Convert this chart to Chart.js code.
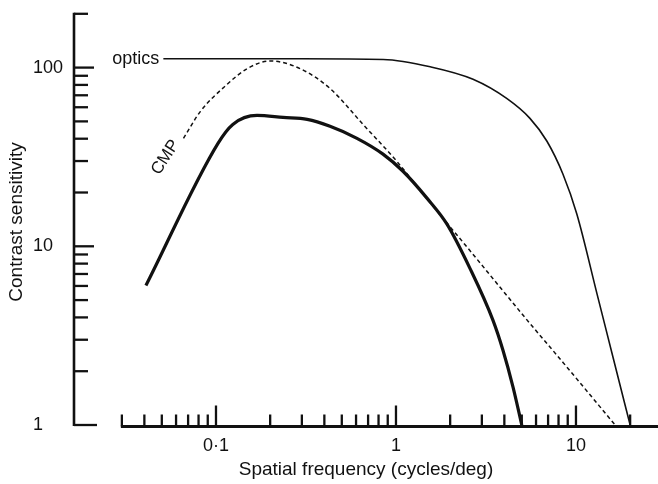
<!DOCTYPE html>
<html>
<head>
<meta charset="utf-8">
<script src="https://cdn.jsdelivr.net/npm/chart.js@4.4.1/dist/chart.umd.min.js"></script>
<style>
  html, body { margin: 0; padding: 0; background: #fff; }
</style>
</head>
<body>
<canvas id="chart" width="658" height="484"></canvas>
<script>
/** DATA */
// spatial frequency in cycles/deg, contrast sensitivity
const opticsFreq = [0.051, 0.3, 0.85, 1.55, 2.68, 4.14, 5.55, 6.9, 8.47, 10.1, 13.1, 16.1, 20];
const opticsSens = [112, 112, 111, 101, 86, 67, 52, 38.7, 25.3, 15.2, 5.4, 2.37, 1];

const cmpFreq = [0.066, 0.082, 0.115, 0.149, 0.2, 0.293, 0.43, 0.656, 1.01, 1.55, 2.58, 5.55, 8.47, 16.5];
const cmpSens = [40.2, 56.9, 80.4, 98.7, 109, 98.7, 76.4, 48.1, 29.9, 17.5, 9.44, 3.7, 2.24, 1];

const observedFreq = [0.0408, 0.1026, 0.124, 0.169, 0.236, 0.321, 0.43, 0.607, 0.847, 1.094, 1.486, 1.92, 2.58, 3.46, 3.93, 4.47, 5.0];
const observedSens = [6.03, 37.7, 48.1, 54, 52.6, 51.3, 46.9, 40.2, 32.8, 26.3, 18.6, 13.3, 7.5, 3.85, 2.62, 1.63, 1];

const xTickValues = [0.1, 1, 10];
const xTickLabels = ['0·1', '1', '10'];
const xMinorTicks = [0.03, 0.04, 0.05, 0.06, 0.07, 0.08, 0.09, 0.2, 0.3, 0.4, 0.5, 0.6, 0.7, 0.8, 0.9, 2, 3, 4, 5, 6, 7, 8, 9, 20];
const yTickValues = [1, 10, 100];
const yMinorTicks = [2, 3, 4, 5, 6, 7, 8, 9, 20, 30, 40, 50, 60, 70, 80, 90, 200];

const INK = '#111';
const FONT = '"Liberation Sans", Arial, Helvetica, sans-serif';

function toPoints(xs, ys) {
    return xs.map(function (x, i) { return { x: x, y: ys[i] }; });
}

/** hand drawn looking axes, placed through the chart scales */
const axesPlugin = {
    id: 'handAxes',
    afterDraw(chart) {
        const ctx = chart.ctx;
        const xs = chart.scales.x;
        const ys = chart.scales.y;
        const area = chart.chartArea;
        ctx.save();
        ctx.strokeStyle = INK;
        ctx.fillStyle = INK;
        ctx.lineCap = 'butt';

        // y axis
        ctx.lineWidth = 2.6;
        ctx.beginPath();
        ctx.moveTo(area.left, ys.getPixelForValue(200) - 1);
        ctx.lineTo(area.left, ys.getPixelForValue(1) + 1);
        ctx.stroke();

        ctx.lineWidth = 2.3;
        yMinorTicks.forEach(function (v) {
            const py = ys.getPixelForValue(v);
            ctx.beginPath();
            ctx.moveTo(area.left, py);
            ctx.lineTo(area.left + 14, py);
            ctx.stroke();
        });
        yTickValues.forEach(function (v) {
            const py = ys.getPixelForValue(v);
            ctx.beginPath();
            ctx.moveTo(area.left, py);
            ctx.lineTo(area.left + (v === 1 ? 23 : 20), py);
            ctx.stroke();
        });

        // x axis, starts at 0.03
        const axisY = area.bottom + 1.5;
        ctx.lineWidth = 2.8;
        ctx.beginPath();
        ctx.moveTo(xs.getPixelForValue(0.03) - 1, axisY);
        ctx.lineTo(area.right, axisY);
        ctx.stroke();

        ctx.lineWidth = 2.3;
        xMinorTicks.forEach(function (v) {
            const px = xs.getPixelForValue(v);
            ctx.beginPath();
            ctx.moveTo(px, axisY);
            ctx.lineTo(px, axisY - 12);
            ctx.stroke();
        });
        xTickValues.forEach(function (v) {
            const px = xs.getPixelForValue(v);
            ctx.beginPath();
            ctx.moveTo(px, axisY);
            ctx.lineTo(px, axisY - 21);
            ctx.stroke();
        });

        // y axis title
        ctx.font = '19px ' + FONT;
        ctx.textAlign = 'center';
        ctx.textBaseline = 'middle';
        ctx.save();
        ctx.translate(17, 222);
        ctx.rotate(-Math.PI / 2);
        ctx.fillText('Contrast sensitivity', 0, 0);
        ctx.restore();

        // curve labels
        ctx.font = '18px ' + FONT;
        ctx.textAlign = 'right';
        ctx.fillText('optics', xs.getPixelForValue(opticsFreq[0]) - 4, ys.getPixelForValue(opticsSens[0]));

        ctx.save();
        ctx.font = '17px ' + FONT;
        ctx.textAlign = 'center';
        ctx.translate(xs.getPixelForValue(cmpFreq[0]) - 18, ys.getPixelForValue(cmpSens[0]) + 19);
        ctx.rotate(-57 * Math.PI / 180);
        ctx.fillText('CMP', 0, 0);
        ctx.restore();

        ctx.restore();
    }
};

const config = {
    type: 'scatter',
    data: {
        datasets: [{
            label: 'optics',
            data: toPoints(opticsFreq, opticsSens),
            showLine: true,
            borderColor: INK,
            borderWidth: 1.6,
            pointRadius: 0,
            cubicInterpolationMode: 'monotone',
            clip: 6
        }, {
            label: 'CMP',
            data: toPoints(cmpFreq, cmpSens),
            showLine: true,
            borderColor: INK,
            borderWidth: 1.5,
            borderDash: [4, 3],
            pointRadius: 0,
            cubicInterpolationMode: 'monotone',
            clip: 6
        }, {
            label: 'observed',
            data: toPoints(observedFreq, observedSens),
            showLine: true,
            borderColor: INK,
            borderWidth: 3.2,
            pointRadius: 0,
            cubicInterpolationMode: 'monotone',
            clip: 6
        }]
    },
    options: {
        responsive: false,
        animation: false,
        layout: { padding: { left: 33, top: 12, right: 0, bottom: 0 } },
        plugins: { legend: { display: false }, tooltip: { enabled: false } },
        scales: {
            x: {
                type: 'logarithmic',
                bounds: 'data',
                min: 0.01626,
                max: 28.56,
                grid: { display: false, drawTicks: false },
                border: { display: false },
                afterBuildTicks: function (scale) {
                    scale.ticks = xTickValues.map(function (v) { return { value: v }; });
                },
                afterFit: function (scale) { scale.height = 59; },
                ticks: {
                    autoSkip: false,
                    maxRotation: 0,
                    padding: 10,
                    color: INK,
                    font: { family: FONT, size: 18 },
                    callback: function (value, index) { return xTickLabels[index]; }
                },
                title: {
                    display: true,
                    text: 'Spatial frequency (cycles/deg)',
                    color: INK,
                    font: { family: FONT, size: 19 },
                    padding: { top: 0, bottom: 3 }
                }
            },
            y: {
                type: 'logarithmic',
                bounds: 'data',
                min: 1,
                max: 200,
                grid: { display: false, drawTicks: false },
                border: { display: false },
                afterBuildTicks: function (scale) {
                    scale.ticks = yTickValues.map(function (v) { return { value: v }; });
                },
                afterFit: function (scale) { scale.width = 41; },
                ticks: {
                    autoSkip: false,
                    crossAlign: 'far',
                    color: INK,
                    font: { family: FONT, size: 18 },
                    callback: function (value) { return String(value); }
                }
            }
        }
    },
    plugins: [axesPlugin]
};

new Chart(document.getElementById('chart').getContext('2d'), config);
</script>
</body>
</html>
